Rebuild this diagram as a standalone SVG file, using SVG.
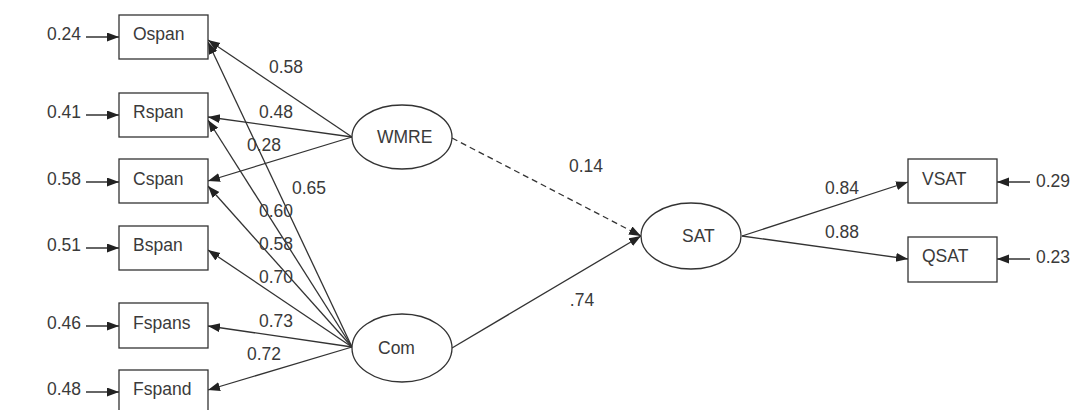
<svg xmlns="http://www.w3.org/2000/svg" width="1072" height="410" viewBox="0 0 1072 410">
<style>
text{font-family:"Liberation Sans",Arial,sans-serif;font-size:17.5px;fill:#3a3a3a}
.box{fill:#fff;stroke:#333;stroke-width:1.3}
.ell{fill:#fff;stroke:#333;stroke-width:1.3}
.ln{stroke:#333;stroke-width:1.3;fill:none;marker-end:url(#ah)}
.dash{stroke-dasharray:6 4}
.lab{text-anchor:middle}
</style>
<defs>
<marker id="ah" markerUnits="userSpaceOnUse" markerWidth="13" markerHeight="10" refX="12" refY="4.5" orient="auto">
<path d="M0,0 L12,4.5 L0,9 z" fill="#222"/>
</marker>
</defs>
<rect width="1072" height="410" fill="#fff"/>
<g id="connectors">
<line class="ln" x1="86" y1="37" x2="119" y2="37"/>
<line class="ln" x1="86" y1="115" x2="119" y2="115"/>
<line class="ln" x1="86" y1="182" x2="119" y2="182"/>
<line class="ln" x1="86" y1="248" x2="119" y2="248"/>
<line class="ln" x1="86" y1="326" x2="119" y2="326"/>
<line class="ln" x1="86" y1="392" x2="119" y2="392"/>
<line class="ln" x1="1030" y1="182" x2="997" y2="182"/>
<line class="ln" x1="1030" y1="259" x2="997" y2="259"/>
<line class="ln" x1="352" y1="137" x2="208" y2="40"/>
<line class="ln" x1="352" y1="137" x2="208" y2="117"/>
<line class="ln" x1="352" y1="137" x2="208" y2="181"/>
<line class="ln" x1="352" y1="347" x2="208" y2="42"/>
<line class="ln" x1="352" y1="347" x2="208" y2="120"/>
<line class="ln" x1="352" y1="347" x2="208" y2="186"/>
<line class="ln" x1="352" y1="347" x2="208" y2="250"/>
<line class="ln" x1="352" y1="347" x2="208" y2="326"/>
<line class="ln" x1="352" y1="347" x2="208" y2="390"/>
<line class="ln dash" x1="452" y1="138" x2="641" y2="236"/>
<line class="ln" x1="452" y1="348" x2="641" y2="236"/>
<line class="ln" x1="742" y1="236" x2="908" y2="182"/>
<line class="ln" x1="742" y1="236" x2="908" y2="259"/>
</g>
<g id="n-ospan"><rect class="box" x="119" y="15" width="89" height="44"/><text x="133" y="40">Ospan</text><text x="47" y="40">0.24</text></g>
<g id="n-rspan"><rect class="box" x="119" y="93" width="89" height="44"/><text x="133" y="118">Rspan</text><text x="47" y="118">0.41</text></g>
<g id="n-cspan"><rect class="box" x="119" y="159" width="89" height="44"/><text x="133" y="185">Cspan</text><text x="47" y="185">0.58</text></g>
<g id="n-bspan"><rect class="box" x="119" y="226" width="89" height="44"/><text x="133" y="251">Bspan</text><text x="47" y="251">0.51</text></g>
<g id="n-fspans"><rect class="box" x="119" y="303" width="89" height="45"/><text x="133" y="329">Fspans</text><text x="47" y="329">0.46</text></g>
<g id="n-fspand"><rect class="box" x="119" y="370" width="89" height="45"/><text x="133" y="395">Fspand</text><text x="47" y="395">0.48</text></g>
<g id="n-wmre"><ellipse class="ell" cx="402" cy="137" rx="50" ry="32"/><text x="377" y="143">WMRE</text></g>
<g id="n-com"><ellipse class="ell" cx="402" cy="348" rx="50" ry="34"/><text x="378" y="354">Com</text></g>
<g id="n-sat"><ellipse class="ell" cx="691" cy="236" rx="50" ry="33"/><text x="682" y="242">SAT</text></g>
<g id="n-vsat"><rect class="box" x="908" y="159" width="89" height="44"/><text x="922" y="185">VSAT</text><text x="1036" y="187">0.29</text></g>
<g id="n-qsat"><rect class="box" x="908" y="237" width="89" height="45"/><text x="922" y="262">QSAT</text><text x="1036" y="263">0.23</text></g>
<g id="labels">
<text class="lab" x="286" y="73">0.58</text>
<text class="lab" x="276" y="118">0.48</text>
<text class="lab" x="264" y="151">0.28</text>
<text class="lab" x="309" y="194">0.65</text>
<text class="lab" x="276" y="217">0.60</text>
<text class="lab" x="276" y="250">0.58</text>
<text class="lab" x="276" y="283">0.70</text>
<text class="lab" x="276" y="327">0.73</text>
<text class="lab" x="264" y="360">0.72</text>
<text class="lab" x="586" y="172">0.14</text>
<text class="lab" x="582" y="306">.74</text>
<text class="lab" x="842" y="194">0.84</text>
<text class="lab" x="842" y="238">0.88</text>
</g>
</svg>
